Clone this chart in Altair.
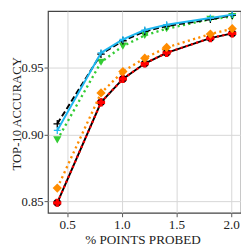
import altair as alt
import pandas as pd

# Data
x_vals = [0.41, 0.81, 1.01, 1.21, 1.41, 1.81, 2.01]
black_solid = [0.849, 0.924, 0.9415, 0.953, 0.961, 0.972, 0.9755]
red_dotted = [0.849, 0.924, 0.9415, 0.953, 0.961, 0.972, 0.9755]
orange_dotted = [0.860, 0.931, 0.947, 0.957, 0.965, 0.975, 0.979]
green_dotted = [0.896, 0.954, 0.966, 0.974, 0.979, 0.986, 0.988]
black_dashed = [0.908, 0.960, 0.970, 0.977, 0.981, 0.986, 0.989]
blue_solid = [0.903, 0.961, 0.971, 0.978, 0.982, 0.987, 0.9895]

x_ticks = [0.5, 1.0, 1.5, 2.0]
y_ticks = [0.85, 0.90, 0.95]

X_DOMAIN = [0.325, 2.09]
Y_DOMAIN = [0.8415, 0.9922]

FONT = "Liberation Serif"

xs = alt.Scale(domain=X_DOMAIN, nice=False, zero=False)
ys = alt.Scale(domain=Y_DOMAIN, nice=False, zero=False)

x_axis = alt.Axis(values=x_ticks, format=".1f", title="% POINTS PROBED",
                  labelFont=FONT, labelFontSize=13.5, labelColor="#222",
                  titleFont=FONT, titleFontSize=13.5, titleFontWeight="normal",
                  titleColor="#222", titleX=97, titleY=31,
                  titleBaseline="alphabetic", titleAnchor="middle",
                  tickColor="#555", tickSize=4, domain=False, grid=True,
                  gridColor="#d6d6d6", gridWidth=1, labelPadding=1)
y_axis = alt.Axis(values=y_ticks, format=".2f", title="TOP-10 ACCURACY",
                  labelFont=FONT, labelFontSize=13, labelColor="#222",
                  titleFont=FONT, titleFontSize=13, titleFontWeight="normal",
                  titleColor="#222", titleX=-28.5, titleY=105,
                  titleBaseline="alphabetic", titleAnchor="middle",
                  tickColor="#555", tickSize=4, domain=False, grid=True,
                  gridColor="#d6d6d6", gridWidth=1, labelPadding=1)

XE = alt.X("x:Q", scale=xs, axis=x_axis)
YE = alt.Y("y:Q", scale=ys, axis=y_axis)


def series(values, name, color, dash, shape, size, filled=True, sw=2.0):
    df = pd.DataFrame({"x": x_vals, "y": values, "s": name})
    base = alt.Chart(df)
    line_kw = dict(color=color, strokeWidth=sw, clip=False)
    if dash:
        line_kw["strokeDash"] = dash
    line = base.mark_line(**line_kw).encode(x=XE, y=YE)
    if filled:
        pts = base.mark_point(shape=shape, size=size, filled=True, color=color,
                              opacity=1).encode(x=XE, y=YE)
    else:
        pts = base.mark_point(shape=shape, size=size, filled=False, color=color,
                              strokeWidth=1.3, opacity=1).encode(x=XE, y=YE)
    return line + pts


plus_path = "M-1,0L1,0M0,-1L0,1"
DOT = [2.2, 3.4]

layers = [
    series(black_solid, "black", "#000000", None, "circle", 60),
    series(red_dotted, "red", "#ff0000", DOT, "cross", 70, sw=2.2),
    series(orange_dotted, "orange", "#ff8c00", DOT, "diamond", 90, sw=2.4),
    series(green_dotted, "green", "#33cc33", DOT, "triangle-down", 70, sw=2.4),
    series(black_dashed, "dashed", "#000000", [6, 3], plus_path, 60, filled=False),
    series(blue_solid, "blue", "#1fb8f0", None, plus_path, 50, filled=False, sw=2.0),
]

chart = alt.layer(*layers).properties(
    width=198, height=207,
    autosize=alt.AutoSizeParams(type="none"),
    padding={"left": 41, "top": 0, "right": 0, "bottom": 34},
).configure_view(stroke="#444", strokeWidth=1.2)

chart.save("out.html", embed_options={"renderer": "svg", "actions": False})
